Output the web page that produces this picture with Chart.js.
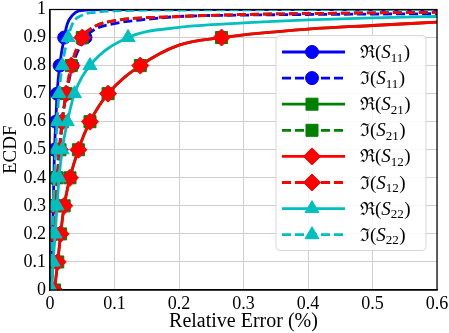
<!DOCTYPE html>
<html>
<head>
<meta charset="utf-8">
<script src="https://cdn.jsdelivr.net/npm/chart.js@4"></script>
<style>
  html, body { margin: 0; padding: 0; background: #fff; }
  #wrap { width: 449px; height: 333px; }
</style>
</head>
<body>
<div id="wrap"><canvas id="grafico"></canvas></div>
<script>
// ECDF curves; the points at y = 0, 0.1 .. 0.9 carry the markers
const reS11X = [0.002, 0.003, 0.004, 0.005, 0.006, 0.007, 0.009, 0.011, 0.015, 0.022, 0.027, 0.035, 0.045, 0.08, 0.6];
const reS11Y = [0, 0.1, 0.2, 0.3, 0.4, 0.5, 0.6, 0.7, 0.8, 0.9, 0.95, 0.98, 0.995, 1, 1];

const imS11X = [0.0025, 0.0045, 0.0065, 0.0085, 0.0115, 0.0145, 0.0185, 0.0255, 0.035, 0.055, 0.07, 0.1, 0.15, 0.2, 0.3, 0.45, 0.6];
const imS11Y = [0, 0.1, 0.2, 0.3, 0.4, 0.5, 0.6, 0.7, 0.8, 0.9, 0.93, 0.95, 0.965, 0.975, 0.98, 0.983, 0.985];

const reS21X = [0.007, 0.012, 0.0165, 0.022, 0.031, 0.044, 0.062, 0.09, 0.14, 0.2, 0.266, 0.4, 0.5, 0.6];
const reS21Y = [0, 0.1, 0.2, 0.3, 0.4, 0.5, 0.6, 0.7, 0.8, 0.873, 0.9, 0.93, 0.943, 0.955];

const imS21X = [0.002, 0.004, 0.006, 0.008, 0.011, 0.0155, 0.019, 0.025, 0.033, 0.05, 0.07, 0.1, 0.2, 0.3, 0.45, 0.6];
const imS21Y = [0, 0.1, 0.2, 0.3, 0.4, 0.5, 0.6, 0.7, 0.8, 0.9, 0.94, 0.96, 0.975, 0.982, 0.987, 0.99];

const reS12X = [0.007, 0.012, 0.0165, 0.022, 0.031, 0.044, 0.062, 0.09, 0.14, 0.2, 0.266, 0.4, 0.5, 0.6];
const reS12Y = [0, 0.1, 0.2, 0.3, 0.4, 0.5, 0.6, 0.7, 0.8, 0.873, 0.9, 0.93, 0.943, 0.955];

const imS12X = [0.002, 0.004, 0.006, 0.008, 0.011, 0.0155, 0.019, 0.025, 0.033, 0.05, 0.07, 0.1, 0.2, 0.3, 0.45, 0.6];
const imS12Y = [0, 0.1, 0.2, 0.3, 0.4, 0.5, 0.6, 0.7, 0.8, 0.9, 0.94, 0.96, 0.975, 0.982, 0.987, 0.99];

const reS22X = [0.003, 0.005, 0.008, 0.011, 0.014, 0.019, 0.027, 0.038, 0.062, 0.121, 0.2, 0.3, 0.4, 0.5, 0.6];
const reS22Y = [0, 0.1, 0.2, 0.3, 0.4, 0.5, 0.6, 0.7, 0.8, 0.9, 0.936, 0.952, 0.963, 0.97, 0.975];

const imS22X = [0.002, 0.003, 0.004, 0.005, 0.007, 0.009, 0.011, 0.014, 0.019, 0.028, 0.035, 0.05, 0.07, 0.1, 0.2, 0.6];
const imS22Y = [0, 0.1, 0.2, 0.3, 0.4, 0.5, 0.6, 0.7, 0.8, 0.9, 0.95, 0.98, 0.99, 0.995, 0.998, 1];

const xTicks = [0, 0.1, 0.2, 0.3, 0.4, 0.5, 0.6];
const yTicks = [0, 0.1, 0.2, 0.3, 0.4, 0.5, 0.6, 0.7, 0.8, 0.9, 1];

const series = [
  { parte: 'ℜ', sub: '11', xs: reS11X, ys: reS11Y, cor: '#0000ff', traco: [], ponto: 'circle', raio: 6.5 },
  { parte: 'ℑ', sub: '11', xs: imS11X, ys: imS11Y, cor: '#0000ff', traco: [9, 4], ponto: 'circle', raio: 6.5 },
  { parte: 'ℜ', sub: '21', xs: reS21X, ys: reS21Y, cor: '#008000', traco: [], ponto: 'rect', raio: 8.5 },
  { parte: 'ℑ', sub: '21', xs: imS21X, ys: imS21Y, cor: '#008000', traco: [9, 4], ponto: 'rect', raio: 8.5 },
  { parte: 'ℜ', sub: '12', xs: reS12X, ys: reS12Y, cor: '#ff0000', traco: [], ponto: 'rectRot', raio: 8.5 },
  { parte: 'ℑ', sub: '12', xs: imS12X, ys: imS12Y, cor: '#ff0000', traco: [9, 4], ponto: 'rectRot', raio: 8.5 },
  { parte: 'ℜ', sub: '22', xs: reS22X, ys: reS22Y, cor: '#00bfbf', traco: [], ponto: 'triangle', raio: 8 },
  { parte: 'ℑ', sub: '22', xs: imS22X, ys: imS22Y, cor: '#00bfbf', traco: [9, 4], ponto: 'triangle', raio: 8 }
];

// marcador so nos decis 0 .. 0.9
function ehDecil(y) {
  return y <= 0.9 && Math.abs(y * 10 - Math.round(y * 10)) < 1e-9;
}

function montarDatasets() {
  return series.map((s, i) => ({
    label: s.parte + s.sub,
    data: s.xs.map((x, k) => ({ x: x, y: s.ys[k] })),
    borderColor: s.cor,
    backgroundColor: s.cor,
    borderWidth: 2.8,
    borderDash: s.traco,
    pointStyle: s.ponto,
    pointRadius: s.ys.map(y => ehDecil(y) ? s.raio : 0),
    pointHoverRadius: 0,
    pointBackgroundColor: s.cor,
    pointBorderColor: s.cor,
    pointBorderWidth: 1,
    cubicInterpolationMode: 'monotone',
    fill: false,
    order: series.length - i
  }));
}

const molduraPlugin = {
  id: 'moldura',
  afterDatasetsDraw(chart) {
    const { ctx, chartArea: a } = chart;
    ctx.save();
    ctx.strokeStyle = '#000';
    ctx.lineWidth = 1.2;
    ctx.strokeRect(a.left, a.top, a.right - a.left, a.bottom - a.top);
    ctx.restore();
  }
};

const legendaPlugin = {
  id: 'legendaMath',
  afterDraw(chart) {
    const ctx = chart.ctx;
    const a = chart.chartArea;
    const x0 = a.right - 161, y0 = a.top + 26, w = 150, h = 215;
    ctx.save();
    ctx.beginPath();
    ctx.roundRect(x0, y0, w, h, 4);
    ctx.fillStyle = 'rgba(255,255,255,0.85)';
    ctx.fill();
    ctx.strokeStyle = '#d6d6d6';
    ctx.lineWidth = 1;
    ctx.stroke();

    series.forEach((s, i) => {
      const cy = y0 + 16.5 + i * 26.1;
      ctx.save();
      ctx.strokeStyle = s.cor;
      ctx.lineWidth = 2.8;
      ctx.setLineDash(s.traco);
      ctx.beginPath();
      ctx.moveTo(x0 + 6, cy);
      ctx.lineTo(x0 + 69, cy);
      ctx.stroke();
      ctx.restore();
      ctx.fillStyle = s.cor;
      ctx.strokeStyle = s.cor;
      ctx.lineWidth = 1;
      Chart.helpers.drawPoint(ctx, { pointStyle: s.ponto, radius: s.raio, rotation: 0, borderWidth: 1 }, x0 + 36, cy);

      // texto: R(S_11)
      let tx = x0 + 84;
      const by = cy + 6;
      ctx.fillStyle = '#000';
      ctx.textBaseline = 'alphabetic';
      ctx.font = '18px "DejaVu Serif"';
      ctx.fillText(s.parte, tx, by);
      tx += ctx.measureText(s.parte).width;
      ctx.font = '19px "Liberation Serif"';
      ctx.fillText('(', tx, by);
      tx += ctx.measureText('(').width;
      ctx.font = 'italic 19px "Liberation Serif"';
      ctx.fillText('S', tx, by);
      tx += ctx.measureText('S').width;
      ctx.font = '13px "Liberation Serif"';
      ctx.fillText(s.sub, tx, by + 3.5);
      tx += ctx.measureText(s.sub).width + 0.5;
      ctx.font = '19px "Liberation Serif"';
      ctx.fillText(')', tx, by);
    });
    ctx.restore();
  }
};

function formatarTick(v) {
  return String(+v.toFixed(1));
}

new Chart(document.getElementById('grafico'), {
  type: 'line',
  data: { datasets: montarDatasets() },
  options: {
    responsive: true,
    maintainAspectRatio: false,
    animation: false,
    events: [],
    layout: { padding: { top: 7, right: 12, left: 0, bottom: 0 } },
    plugins: {
      legend: { display: false },
      tooltip: { enabled: false }
    },
    scales: {
      x: {
        type: 'linear',
        min: 0,
        max: 0.6,
        afterBuildTicks: sc => { sc.ticks = xTicks.map(v => ({ value: v })); },
        afterFit: sc => { sc.height = 43; sc.paddingLeft = 0; sc.paddingRight = 0; },
        ticks: {
          padding: 3,
          color: '#000',
          font: { family: 'Liberation Serif', size: 18 },
          callback: formatarTick,
          maxRotation: 0
        },
        grid: { color: '#cfcfcf', lineWidth: 1, drawTicks: false },
        border: { display: true, color: '#000', width: 1.2 },
        title: {
          display: true,
          text: 'Relative Error (%)',
          color: '#000',
          font: { family: 'Liberation Serif', size: 20, lineHeight: 1 },
          padding: { top: 0, bottom: 1 }
        }
      },
      y: {
        type: 'linear',
        min: 0,
        max: 1,
        afterBuildTicks: sc => { sc.ticks = yTicks.map(v => ({ value: v })); },
        afterFit: sc => { sc.width = 50; sc.paddingTop = 0; sc.paddingBottom = 0; },
        ticks: {
          padding: 4,
          color: '#000',
          font: { family: 'Liberation Serif', size: 18 },
          callback: formatarTick
        },
        grid: { color: '#cfcfcf', lineWidth: 1, drawTicks: false },
        border: { display: true, color: '#000', width: 1.2 },
        title: {
          display: true,
          text: 'ECDF',
          color: '#000',
          font: { family: 'Liberation Serif', size: 19, lineHeight: 1 },
          padding: { top: 2, bottom: 0 }
        }
      }
    }
  },
  plugins: [molduraPlugin, legendaPlugin]
});
</script>
</body>
</html>
